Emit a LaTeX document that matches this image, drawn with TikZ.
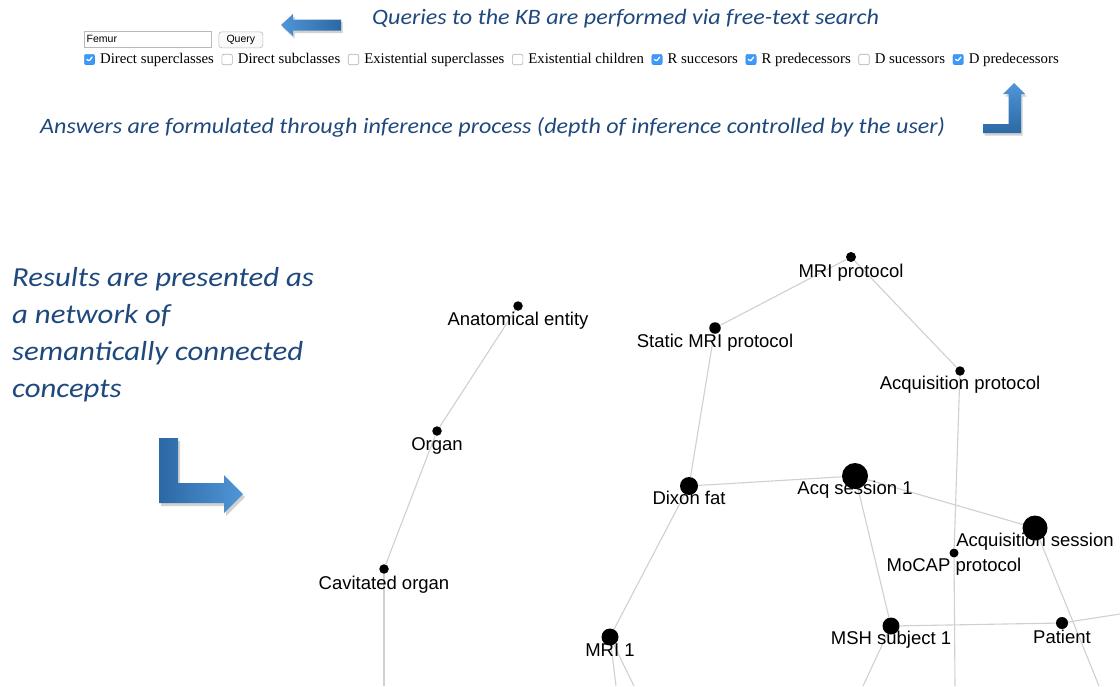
\documentclass[tikz,border=0pt]{standalone}
\usepackage{fontspec}
\setmainfont{Liberation Serif}
\newfontfamily\labfont{Liberation Sans}
\newfontfamily\califont[FakeStretch=1.095]{Carlito}
\newfontfamily\califontw[FakeStretch=1.12]{Carlito}
\usetikzlibrary{positioning,shadings}

\definecolor{txtblue}{RGB}{31,73,125}
\definecolor{arrdark}{RGB}{44,104,164}
\definecolor{arrlight}{RGB}{80,150,216}
\definecolor{edgegray}{RGB}{208,208,208}
\definecolor{chkblue}{RGB}{59,153,252}

\begin{document}
\begin{tikzpicture}[x=1pt,y=-1pt,
  edge/.style={draw=edgegray,line width=1.1pt},
  dot/.style={circle,fill=black,inner sep=0pt,minimum size=#1},
  lbl/.style={font=\labfont\fontsize{18.5}{20}\selectfont,inner sep=0pt},
  note/.style={font=\califont\itshape\fontsize{22}{26}\selectfont,text=txtblue,inner sep=0pt},
  chkon/.style={rectangle,rounded corners=2pt,fill=chkblue,draw=chkblue!85!black,line width=0.3pt,minimum size=10.5pt,inner sep=0pt,
    path picture={\draw[white,line width=1.3pt,line cap=round,line join=round]
      ([xshift=-2.6pt,yshift=0.2pt]path picture bounding box.center) --
      ([xshift=-0.7pt,yshift=-2pt]path picture bounding box.center) --
      ([xshift=2.6pt,yshift=2.4pt]path picture bounding box.center);}},
  chkoff/.style={rectangle,rounded corners=2pt,fill=white,draw=gray!60,line width=0.6pt,minimum size=10.5pt,inner sep=0pt},
  cbtext/.style={font=\fontsize{14.8}{17}\selectfont,inner sep=0pt,text height=10.5pt,text depth=3.5pt},
  arrowshape/.style={draw=none},
  shadowshape/.style={fill=black,opacity=0.18,draw=none}
]
\useasboundingbox (0,0) rectangle (1120,686);
\fill[white] (0,0) rectangle (1120,686);

% ---------- top query widgets ----------
\node[draw=gray!55,fill=white,line width=0.6pt,minimum width=127pt,minimum height=16pt,inner sep=0pt,anchor=north west] (field) at (83.5,30.5) {};
\node[font=\labfont\fontsize{10.5}{12}\selectfont,inner sep=0pt,anchor=west] (femur) at ([xshift=3pt]field.west) {Femur};
\node[draw=gray!55,fill=gray!4,rounded corners=3pt,line width=0.6pt,minimum width=44pt,minimum height=16pt,inner sep=0pt,anchor=north west,font=\labfont\fontsize{10.5}{12}\selectfont] (query) at (218.5,31.5) {Query};

% ---------- checkbox row ----------
\node[chkon] (c1) at (89.5,59.5) {};
\node[cbtext,right=5pt of c1] (t1) {Direct superclasses};
\node[chkoff,right=7.5pt of t1] (c2) {};
\node[cbtext,right=5pt of c2] (t2) {Direct subclasses};
\node[chkoff,right=7.5pt of t2] (c3) {};
\node[cbtext,right=5pt of c3] (t3) {Existential superclasses};
\node[chkoff,right=7.5pt of t3] (c4) {};
\node[cbtext,right=5pt of c4] (t4) {Existential children};
\node[chkon,right=7.5pt of t4] (c5) {};
\node[cbtext,right=5pt of c5] (t5) {R succesors};
\node[chkon,right=7.5pt of t5] (c6) {};
\node[cbtext,right=5pt of c6] (t6) {R predecessors};
\node[chkoff,right=7.5pt of t6] (c7) {};
\node[cbtext,right=5pt of c7] (t7) {D sucessors};
\node[chkon,right=7.5pt of t7] (c8) {};
\node[cbtext,right=5pt of c8] (t8) {D predecessors};

% ---------- blue notes ----------
\node[note,anchor=west] (qnote) at (372,19) {Queries to the KB are performed via free-text search};
\node[note,anchor=west] (anote) at (40,127) {Answers are formulated through inference process (depth of inference controlled by the user)};
\node[note,font=\califontw\itshape\fontsize{27.5}{37}\selectfont,align=left,anchor=north west] (rnote) at (12,267)
  {Results are presented as\\a network of\\semantically connected\\concepts};

% ---------- arrows ----------
\fill[shadowshape] (282.5,27.5) -- (294.5,16.5) -- (294.5,22) -- (342.5,22) -- (342.5,33) -- (294.5,33) -- (294.5,38.5) -- cycle;
\shade[arrowshape,left color=arrlight,right color=arrdark] (281,25) -- (293,14) -- (293,19.5) -- (341,19.5) -- (341,30.5) -- (293,30.5) -- (293,36) -- cycle;
\fill[shadowshape] (1015.5,85.5) -- (1026.5,96.5) -- (1022.5,96.5) -- (1022.5,135.5) -- (984.5,135.5) -- (984.5,126.5) -- (1010,126.5) -- (1010,96.5) -- (1005.5,96.5) -- cycle;
\shade[arrowshape,top color=arrlight,bottom color=arrdark] (1014,83) -- (1025,94) -- (1021,94) -- (1021,133) -- (983,133) -- (983,124) -- (1008.5,124) -- (1008.5,94) -- (1003,94) -- cycle;
\fill[shadowshape] (161,441) -- (180,441) -- (180,486) -- (226,486) -- (226,478) -- (245,497) -- (226,516) -- (226,506) -- (161,506) -- cycle;
\shade[arrowshape,left color=arrdark,right color=arrlight] (159,438) -- (178,438) -- (178,483) -- (224,483) -- (224,475) -- (243,494) -- (224,513) -- (224,503) -- (159,503) -- cycle;

% ---------- network ----------
\coordinate (cavend) at (384,686);
\coordinate (mocapend) at (955,686);
\coordinate (mri1endA) at (616,686);
\coordinate (mri1endB) at (634,686);
\coordinate (mshend) at (863,686);
\coordinate (patend) at (1120,614);
\coordinate (acqsend) at (1099,686);

\node[dot=9.5] (ae) at (518,306) {};
\node[dot=9.5] (org) at (437,431) {};
\node[dot=9.5] (cav) at (384,569) {};
\node[dot=10] (mrip) at (851,257) {};
\node[dot=11.5] (smri) at (715,328) {};
\node[dot=9.5] (acqp) at (960,371) {};
\node[dot=18] (dix) at (689,486) {};
\node[dot=26] (as1) at (855,476) {};
\node[dot=25] (acqs) at (1035,528) {};
\node[dot=9] (mocap) at (954,553) {};
\node[dot=17] (msh) at (891,626) {};
\node[dot=12] (pat) at (1062,623) {};
\node[dot=17] (mri1) at (610,637) {};

\draw[edge] (ae) -- (org);
\draw[edge] (org) -- (cav);
\draw[edge] (cav) -- (cavend);
\draw[edge] (mrip) -- (smri);
\draw[edge] (mrip) -- (acqp);
\draw[edge] (smri) -- (dix);
\draw[edge] (acqp) -- (mocap);
\draw[edge] (mocap) -- (mocapend);
\draw[edge] (dix) -- (as1);
\draw[edge] (dix) -- (mri1);
\draw[edge] (as1) -- (acqs);
\draw[edge] (as1) -- (msh);
\draw[edge] (msh) -- (pat);
\draw[edge] (pat) -- (patend);
\draw[edge] (acqs) -- (acqsend);
\draw[edge] (msh) -- (mshend);
\draw[edge] (mri1) -- (mri1endA);
\draw[edge] (mri1) -- (mri1endB);

\node[lbl] (aeL) at ([yshift=-15pt]ae.center) {Anatomical entity};
\node[lbl] (orgL) at ([yshift=-15pt]org.center) {Organ};
\node[lbl] (cavL) at ([yshift=-15.5pt]cav.center) {Cavitated organ};
\node[lbl] (mripL) at ([yshift=-15.5pt]mrip.center) {MRI protocol};
\node[lbl] (smriL) at ([yshift=-15pt]smri.center) {Static MRI protocol};
\node[lbl] (acqpL) at ([yshift=-14pt]acqp.center) {Acquisition protocol};
\node[lbl] (dixL) at ([yshift=-12pt]dix.center) {Dixon fat};
\node[lbl] (as1L) at ([yshift=-13.5pt]as1.center) {Acq session 1};
\node[lbl] (acqsL) at ([yshift=-13.5pt]acqs.center) {Acquisition session};
\node[lbl] (mocapL) at ([yshift=-14pt]mocap.center) {MoCAP protocol};
\node[lbl] (mshL) at ([yshift=-13.5pt]msh.center) {MSH subject 1};
\node[lbl] (patL) at ([yshift=-14pt]pat.center) {Patient};
\node[lbl] (mri1L) at ([yshift=-13pt]mri1.center) {MRI 1};
\end{tikzpicture}
\end{document}
